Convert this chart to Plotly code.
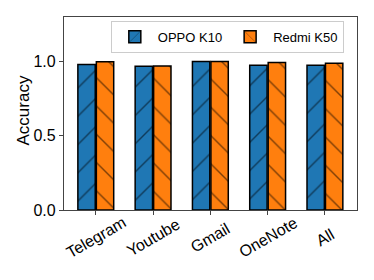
import plotly.graph_objects as go

categories = ["Telegram", "Youtube", "Gmail", "OneNote", "All"]
oppo_k10 = [0.980, 0.968, 1.000, 0.975, 0.975]
redmi_k50 = [0.998, 0.970, 1.000, 0.993, 0.988]
series_names = ["OPPO K10", "Redmi K50"]
y_ticks = [0.0, 0.5, 1.0]
y_tick_labels = ["0.0", "0.5", "1.0"]

FONT = "Liberation Sans, Arial, sans-serif"
x_idx = list(range(len(categories)))

fig = go.Figure()
fig.add_trace(go.Bar(
    x=x_idx, y=oppo_k10, name=series_names[0],
    marker=dict(color="#1f77b4", line=dict(color="black", width=1.5),
                pattern=dict(shape="/", fgcolor="black", size=20, solidity=0.07)),
))
fig.add_trace(go.Bar(
    x=x_idx, y=redmi_k50, name=series_names[1],
    marker=dict(color="#ff7f0e", line=dict(color="black", width=1.5),
                pattern=dict(shape="\\", fgcolor="black", size=20, solidity=0.07)),
))

for i, c in enumerate(categories):
    fig.add_annotation(x=i, y=0, xref="x", yref="y", text=c, showarrow=False,
                       textangle=-30, xanchor="center", yanchor="middle",
                       yshift=-27, font=dict(family=FONT, size=16, color="black"))

fig.add_annotation(x=0, y=0.5, xref="paper", yref="paper", text="Accuracy",
                   showarrow=False, textangle=-90, xanchor="center", yanchor="middle",
                   xshift=-41, yshift=3, font=dict(family=FONT, size=17, color="black"))

fig.update_layout(
    width=374, height=280,
    margin=dict(l=64, r=17, t=17, b=70),
    paper_bgcolor="white", plot_bgcolor="white",
    barmode="group", bargap=0.355, bargroupgap=0.06,
    font=dict(family=FONT, color="black"),
    showlegend=True,
    legend=dict(orientation="h", x=0.955, xanchor="right", y=0.98, yanchor="top",
                bordercolor="#cccccc", borderwidth=1, bgcolor="white",
                font=dict(size=13, family=FONT), itemwidth=36,
                traceorder="normal"),
    xaxis=dict(range=[-0.555, 4.56], tickvals=x_idx, ticktext=[""] * len(categories),
               ticks="outside", ticklen=4, tickcolor="#444", showline=True,
               linecolor="#444", linewidth=1.2, mirror=True, showgrid=False,
               zeroline=False, automargin=False),
    yaxis=dict(range=[0, 1.3], tickvals=y_ticks, ticktext=y_tick_labels,
               ticks="outside", ticklen=4, tickcolor="#444", showline=True,
               linecolor="#444", linewidth=1.2, mirror=True, showgrid=False,
               zeroline=False, tickfont=dict(size=16, family=FONT),
               automargin=False),
)

fig.write_html("out.html", config={"displayModeBar": False},
               post_script="document.body.style.margin='0';document.body.style.padding='0';")
